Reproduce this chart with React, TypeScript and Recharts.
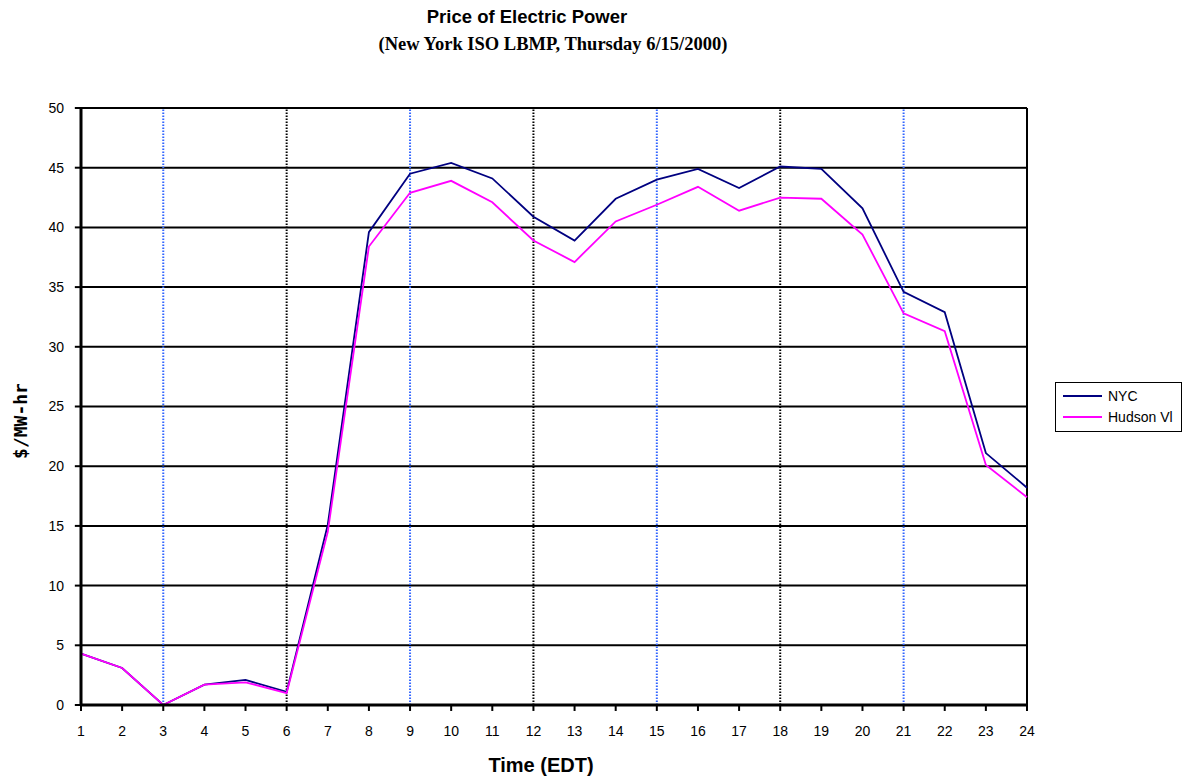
import {
  CartesianGrid,
  Line,
  LineChart,
  ReferenceLine,
  XAxis,
  YAxis
} from "recharts";

const hours = [1, 2, 3, 4, 5, 6, 7, 8, 9, 10, 11, 12, 13, 14, 15, 16, 17, 18, 19, 20, 21, 22, 23, 24];
const nycPrice = [4.3, 3.1, 0, 1.7, 2.1, 1.1, 15.1, 39.6, 44.5, 45.4, 44.1, 40.9, 38.9, 42.4, 44.0, 44.9, 43.3, 45.1, 44.9, 41.6, 34.6, 32.9, 21.1, 18.2];
const hudsonPrice = [4.3, 3.1, 0, 1.7, 1.9, 1.0, 14.5, 38.4, 42.9, 43.9, 42.1, 38.9, 37.1, 40.5, 41.9, 43.4, 41.4, 42.5, 42.4, 39.4, 32.8, 31.3, 20.1, 17.4];
const yTicks = [0, 5, 10, 15, 20, 25, 30, 35, 40, 45, 50];
const blueMarks = [3, 9, 15, 21];
const blackMarks = [6, 12, 18];

const series = [
  { key: "nyc", name: "NYC", color: "#000080" },
  { key: "hudson", name: "Hudson Vl", color: "#ff00ff" }
];

const data = hours.map((h, i) => ({ hour: h, nyc: nycPrice[i], hudson: hudsonPrice[i] }));

const sans = "'Liberation Sans', Arial, sans-serif";
const serif = "'Liberation Serif', 'Times New Roman', serif";

// tick mark length in data units (about 6px on each axis)
const X_MARK = 0.5;
const Y_MARK = 0.15;

function LegendBox() {
  return (
    <div
      style={{
        position: "absolute",
        left: 1055,
        top: 382,
        width: 125,
        height: 48,
        border: "1px solid #000",
        background: "#fff",
        fontFamily: sans,
        fontSize: 14,
        boxSizing: "content-box"
      }}
    >
      {series.map((s, i) => (
        <div
          key={s.key}
          style={{ position: "absolute", left: 7, top: 4 + i * 21, display: "flex", alignItems: "center", height: 18 }}
        >
          <span style={{ display: "inline-block", width: 39, height: 2, background: s.color, marginRight: 6 }} />
          <span>{s.name}</span>
        </div>
      ))}
    </div>
  );
}

export default function App() {
  return (
    <div style={{ position: "absolute", left: 0, top: 0, width: 1185, height: 780, background: "#fff" }}>
      <div
        style={{
          position: "absolute",
          left: 327,
          width: 400,
          top: 6,
          textAlign: "center",
          fontFamily: sans,
          fontWeight: "bold",
          fontSize: 18.5
        }}
      >
        Price of Electric Power
      </div>
      <div
        style={{
          position: "absolute",
          left: 303,
          width: 500,
          top: 34,
          textAlign: "center",
          fontFamily: serif,
          fontWeight: "bold",
          fontSize: 18.5
        }}
      >
        (New York ISO LBMP, Thursday 6/15/2000)
      </div>
      <div style={{ position: "absolute", left: 0, top: 0 }}>
        <LineChart width={1185} height={780} data={data} margin={{ top: 108, right: 158, bottom: 45, left: 31 }}>
          <CartesianGrid vertical={false} stroke="#000" strokeWidth={2} horizontalValues={yTicks} />
          {blueMarks.map((m) => (
            <ReferenceLine key={"b" + m} x={m} stroke="#3366ff" strokeWidth={2} strokeDasharray="1.5 1.5" />
          ))}
          {blackMarks.map((m) => (
            <ReferenceLine key={"k" + m} x={m} stroke="#000" strokeWidth={2} strokeDasharray="1.5 1.5" />
          ))}
          <ReferenceLine x={24} stroke="#000" strokeWidth={2} />
          {hours.map((h) => (
            <ReferenceLine
              key={"xt" + h}
              segment={[{ x: h, y: 0 }, { x: h, y: -X_MARK }]}
              stroke="#000"
              strokeWidth={2}
              ifOverflow="visible"
            />
          ))}
          {yTicks.map((t) => (
            <ReferenceLine
              key={"yt" + t}
              segment={[{ x: 1, y: t }, { x: 1 - Y_MARK, y: t }]}
              stroke="#000"
              strokeWidth={2}
              ifOverflow="visible"
            />
          ))}
          <XAxis
            dataKey="hour"
            type="number"
            domain={[1, 24]}
            ticks={hours}
            interval={0}
            height={30}
            axisLine={{ stroke: "#000", strokeWidth: 3 }}
            tickLine={false}
            tickSize={6}
            tickMargin={15}
            tick={{ fill: "#000", fontFamily: sans, fontSize: 14 }}
          />
          <YAxis
            type="number"
            domain={[0, 50]}
            ticks={yTicks}
            interval={0}
            width={50}
            axisLine={{ stroke: "#000", strokeWidth: 3 }}
            tickLine={false}
            tickSize={6}
            tickMargin={11}
            tick={{ fill: "#000", fontFamily: sans, fontSize: 14 }}
          />
          {series.map((s) => (
            <Line
              key={s.key}
              dataKey={s.key}
              name={s.name}
              stroke={s.color}
              strokeWidth={1.8}
              dot={false}
              type="linear"
              isAnimationActive={false}
            />
          ))}
        </LineChart>
      </div>
      <div
        style={{
          position: "absolute",
          left: 441,
          width: 200,
          top: 754,
          textAlign: "center",
          fontFamily: sans,
          fontWeight: "bold",
          fontSize: 20
        }}
      >
        Time (EDT)
      </div>
      <div
        style={{
          position: "absolute",
          left: 20,
          top: 421,
          transform: "translate(-50%, -50%) rotate(-90deg)",
          whiteSpace: "nowrap",
          fontFamily: "'DejaVu Sans Mono', monospace",
          fontWeight: "bold",
          fontSize: 18
        }}
      >
        $/MW-hr
      </div>
      <LegendBox />
    </div>
  );
}
